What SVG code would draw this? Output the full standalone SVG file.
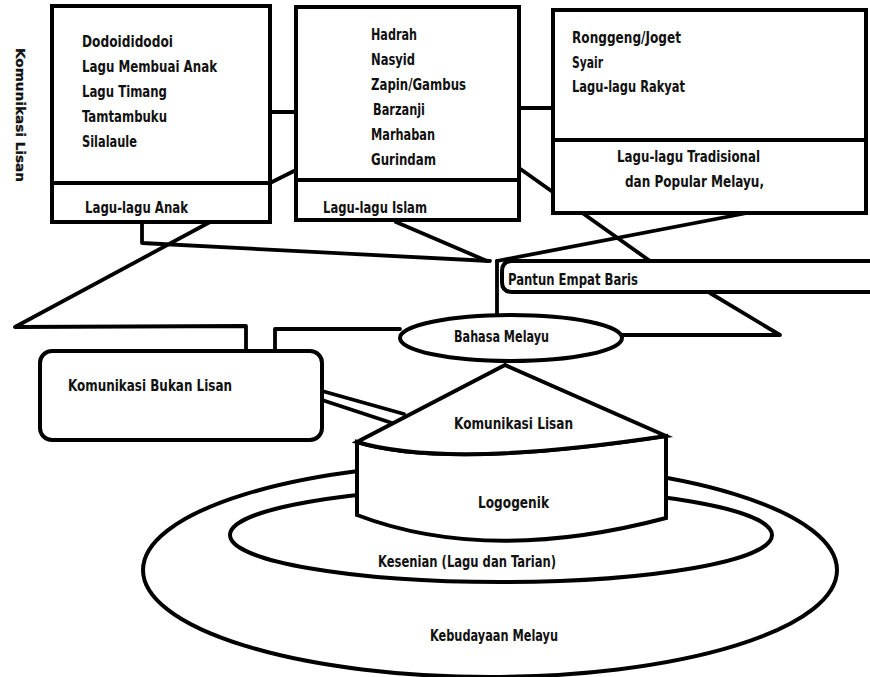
<svg xmlns="http://www.w3.org/2000/svg" width="870" height="677" viewBox="0 0 870 677">
<style>
.t{font-family:"Liberation Sans Narrow","DejaVu Sans Condensed","Liberation Sans",sans-serif;font-weight:bold;font-size:16.5px;fill:#111}
.b{fill:#fff;stroke:#000;stroke-width:4}
.ln{fill:none;stroke:#000;stroke-width:3.8;stroke-linejoin:round;stroke-linecap:round}
.v{font-family:"DejaVu Sans","Liberation Sans",sans-serif;font-weight:bold;font-size:13px;fill:#111;stroke:#111;stroke-width:0.3}
</style>
<rect width="870" height="677" fill="#fff"/>
<text class="v" transform="translate(16,115) rotate(90)" text-anchor="middle" textLength="134" lengthAdjust="spacingAndGlyphs">Komunikasi Lisan</text>
<g id="connectors" class="ln">
<path d="M270,112 H296"/>
<path d="M270,183 L296,170"/>
<path d="M519,108 H553"/>
<path d="M519,168 L650,261"/>
<path d="M142,222 V243 L490,261"/>
<path d="M210,222 L15,327 L246,326 V350"/>
<path d="M275,350 V329 H400"/>
<path d="M396,222 L487,261"/>
<path d="M747,213 L497,261"/>
<path d="M497,261 V315"/>
<path d="M622,335 H780 L710,293"/>
<path d="M322,391 L404,414"/>
<path d="M322,400 L392,423"/>
</g>
<g id="lagu-anak">
<rect class="b" x="52" y="6" width="218" height="216"/>
<path d="M52,183 H270" stroke="#000" stroke-width="4"/>
<text class="t" x="82" y="47" textLength="91" lengthAdjust="spacingAndGlyphs">Dodoididodoi</text>
<text class="t" x="82" y="72" textLength="135" lengthAdjust="spacingAndGlyphs">Lagu Membuai Anak</text>
<text class="t" x="82" y="97" textLength="85" lengthAdjust="spacingAndGlyphs">Lagu Timang</text>
<text class="t" x="82" y="122" textLength="85" lengthAdjust="spacingAndGlyphs">Tamtambuku</text>
<text class="t" x="82" y="147" textLength="55" lengthAdjust="spacingAndGlyphs">Silalaule</text>
<text class="t" x="85" y="213" textLength="103" lengthAdjust="spacingAndGlyphs">Lagu-lagu Anak</text>
</g>
<g id="lagu-islam">
<rect class="b" x="296" y="7" width="223" height="213"/>
<path d="M296,180 H519" stroke="#000" stroke-width="4"/>
<text class="t" x="371" y="40" textLength="46" lengthAdjust="spacingAndGlyphs">Hadrah</text>
<text class="t" x="371" y="65" textLength="44" lengthAdjust="spacingAndGlyphs">Nasyid</text>
<text class="t" x="371" y="90" textLength="95" lengthAdjust="spacingAndGlyphs">Zapin/Gambus</text>
<text class="t" x="373" y="115" textLength="52" lengthAdjust="spacingAndGlyphs">Barzanji</text>
<text class="t" x="371" y="140" textLength="64" lengthAdjust="spacingAndGlyphs">Marhaban</text>
<text class="t" x="371" y="165" textLength="65" lengthAdjust="spacingAndGlyphs">Gurindam</text>
<text class="t" x="323" y="213" textLength="104" lengthAdjust="spacingAndGlyphs">Lagu-lagu Islam</text>
</g>
<g id="lagu-tradisional">
<rect class="b" x="553" y="10" width="313" height="203"/>
<path d="M553,140 H866" stroke="#000" stroke-width="4"/>
<text class="t" x="572" y="43" textLength="109" lengthAdjust="spacingAndGlyphs">Ronggeng/Joget</text>
<text class="t" x="572" y="68" textLength="31" lengthAdjust="spacingAndGlyphs">Syair</text>
<text class="t" x="572" y="92" textLength="113" lengthAdjust="spacingAndGlyphs">Lagu-lagu Rakyat</text>
<text class="t" x="617" y="162" textLength="143" lengthAdjust="spacingAndGlyphs">Lagu-lagu Tradisional</text>
<text class="t" x="625" y="187" textLength="139" lengthAdjust="spacingAndGlyphs">dan Popular Melayu,</text>
</g>
<g id="pantun">
<path d="M872,261 H512 Q502,261 502,271 V282 Q502,292 512,292 H872" fill="#fff" stroke="#000" stroke-width="4"/>
<text class="t" x="508" y="285" textLength="130" lengthAdjust="spacingAndGlyphs">Pantun Empat Baris</text>
</g>
<g id="bahasa-melayu">
<ellipse class="b" cx="511" cy="338" rx="111" ry="23"/>
<text class="t" x="454" y="342" textLength="95" lengthAdjust="spacingAndGlyphs">Bahasa Melayu</text>
</g>
<g id="bukan-lisan">
<rect class="b" x="40" y="351" width="282" height="89" rx="12"/>
<text class="t" x="68" y="391" textLength="164" lengthAdjust="spacingAndGlyphs">Komunikasi Bukan Lisan</text>
</g>
<g id="kebudayaan">
<ellipse class="b" cx="490" cy="570" rx="347" ry="107"/>
<text class="t" x="430" y="641" textLength="128" lengthAdjust="spacingAndGlyphs">Kebudayaan Melayu</text>
</g>
<g id="kesenian">
<ellipse class="b" cx="501" cy="535" rx="271" ry="47"/>
<text class="t" x="378" y="567" textLength="178" lengthAdjust="spacingAndGlyphs">Kesenian (Lagu dan Tarian)</text>
</g>
<g id="logogenik">
<path class="b" d="M357,442 Q448,469 666,436 V518 Q488,565 357,515 Z"/>
<text class="t" x="478" y="508" textLength="71" lengthAdjust="spacingAndGlyphs">Logogenik</text>
</g>
<g id="komunikasi-lisan">
<path class="b" d="M505,365 L357,442 Q448,469 666,436 Z"/>
<text class="t" x="454" y="429" textLength="119" lengthAdjust="spacingAndGlyphs">Komunikasi Lisan</text>
</g>
</svg>
